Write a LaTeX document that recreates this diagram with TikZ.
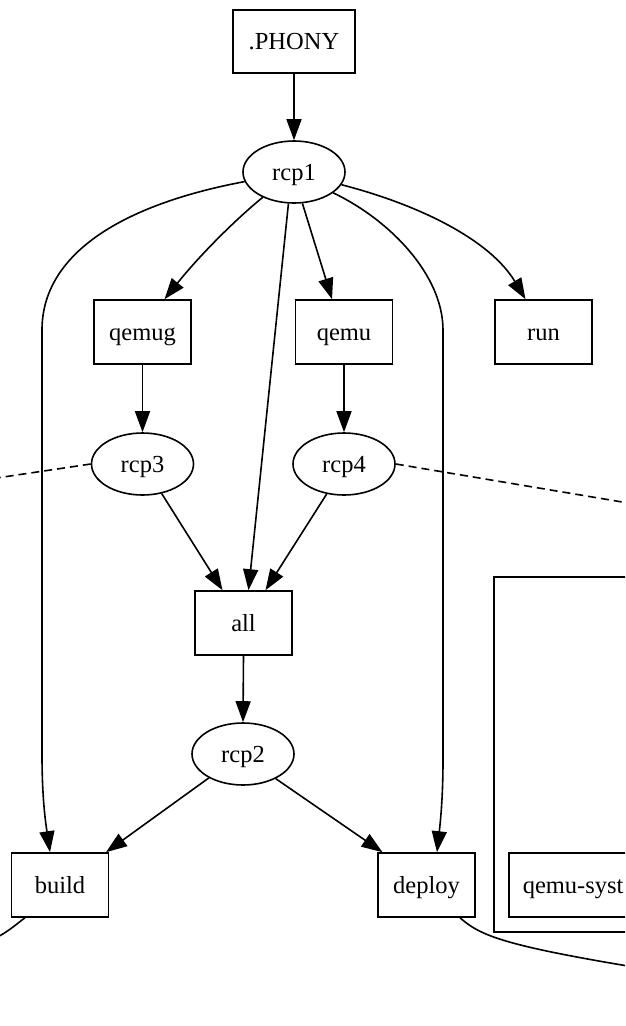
\documentclass[tikz,border=0pt]{standalone}
\usepackage{fontspec}
\setmainfont{Liberation Serif}
\usetikzlibrary{shapes.geometric,arrows.meta}
\begin{document}
\begin{tikzpicture}[x=1pt,y=-1pt,
  every node/.style={font=\fontsize{24.5}{28}\selectfont, line width=1.6pt,
    text height=16pt, text depth=0pt},
  boxnode/.style={draw, rectangle, minimum width=97pt, minimum height=64pt, inner sep=0pt},
  ovalnode/.style={draw, ellipse, minimum width=102pt, minimum height=62pt, inner sep=0pt},
  edge/.style={line width=1.6pt, -{Triangle[length=21pt,width=15pt]}},
  link/.style={line width=1.6pt},
  dashlink/.style={line width=1.6pt, dash pattern=on 8pt off 5pt}]
\useasboundingbox (0,0) rectangle (625,1026);
\clip (0,0) rectangle (625,1026);

% targets and rule nodes
\node[boxnode, minimum width=122pt, minimum height=63pt] (phony) at (294,41.5) {.PHONY};
\node[ovalnode] (rcp1) at (294,172) {rcp1};
\node[boxnode] (qemug) at (142.5,332) {qemug};
\node[boxnode] (qemu) at (344,332) {qemu};
\node[boxnode] (run) at (543.5,332) {run};
\node[ovalnode] (rcp3) at (142.5,464) {rcp3};
\node[ovalnode] (rcp4) at (344,464) {rcp4};
\node[boxnode] (all) at (243.5,623) {all};
\node[ovalnode] (rcp2) at (243,754) {rcp2};
\node[boxnode] (build) at (60,885) {build};
\node[boxnode] (deploy) at (426.5,885) {deploy};

% cluster on the right
\draw[link] (494,577) rectangle (650,932);
\node[draw, rectangle, anchor=west, minimum width=140pt, minimum height=64pt,
      inner ysep=0pt, inner xsep=14pt, text width=112pt, align=left] (qsys) at (508,885) {qemu-syst};

% loose ends leaving the frame
\coordinate (outL) at (-10,479);
\coordinate (outR) at (640,505);
\coordinate (outBL) at (-12,941);
\coordinate (outBR) at (640,968);

% dependencies
\draw[edge] (phony.south) -- (rcp1.north);
\draw[edge] (rcp1.219) .. controls (235,220) and (200,255) .. ([xshift=22pt]qemug.north);
\draw[edge] (rcp1.285) -- ([xshift=-12pt]qemu.north);
\draw[edge] (rcp1.345) .. controls (420,205) and (490,240) .. ([xshift=-18pt]run.north);
\draw[edge] (rcp1.260) -- ([xshift=5pt]all.north);
\draw[edge] (rcp1.191) .. controls (120,205) and (42,255) .. (42,330)
  -- (42,755) .. controls (42,800) and (46,825) .. ([xshift=-10pt]build.north);
\draw[edge] (rcp1.332) .. controls (390,220) and (443,275) .. (443,330)
  -- (443,760) .. controls (443,800) and (440,825) .. ([xshift=10.5pt]deploy.north);
\draw[edge] (qemug.south) -- (rcp3.north);
\draw[edge] (qemu.south) -- (rcp4.north);
\draw[edge] (rcp3.303) -- ([xshift=-21pt]all.north);
\draw[edge] (rcp4.240) -- ([xshift=22pt]all.north);
\draw[edge] (all.south) -- (rcp2.north);
\draw[edge] (rcp2.215) -- ([xshift=46pt]build.north);
\draw[edge] (rcp2.323) -- ([xshift=-44pt]deploy.north);

\draw[dashlink] (rcp3.west) -- (outL);
\draw[dashlink] (rcp4.east) -- (outR);
\draw[link] ([xshift=-35pt]build.south) .. controls (15,925) and (5,935) .. (outBL);
\draw[link] ([xshift=33.5pt]deploy.south) .. controls (480,935) and (500,945) .. (outBR);
\end{tikzpicture}
\end{document}
